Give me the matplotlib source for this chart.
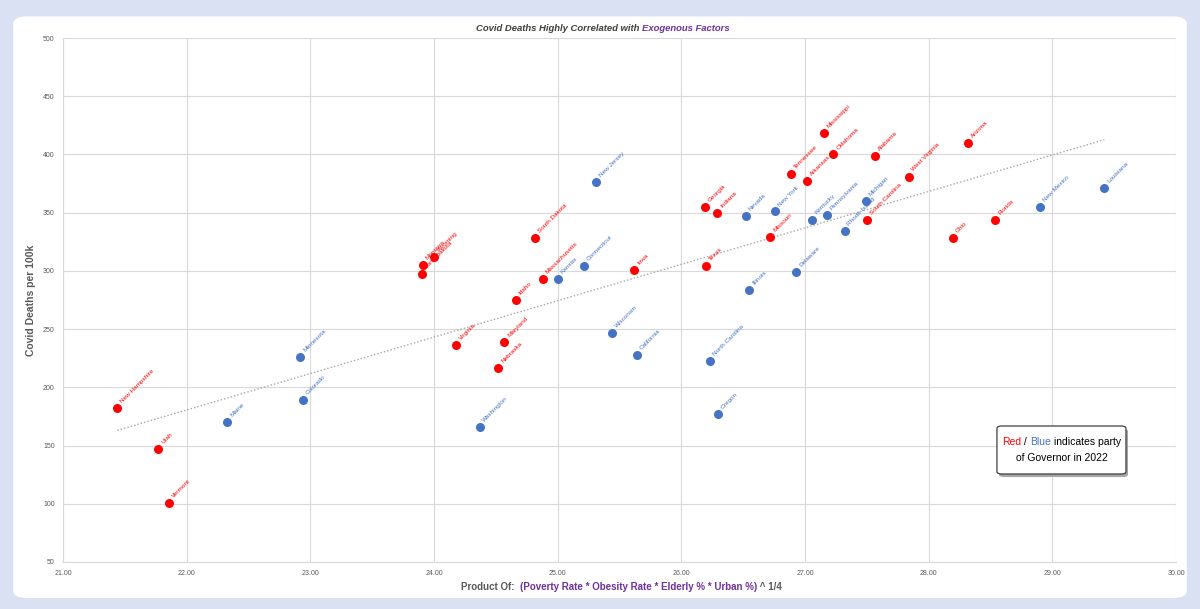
import matplotlib.pyplot as plt
import numpy as np
from matplotlib.patches import FancyBboxPatch
from matplotlib.offsetbox import TextArea, HPacker, VPacker, AnchoredOffsetbox

plt.rcParams['font.family'] = ['DejaVu Sans Condensed', 'Liberation Sans Narrow',
                               'Liberation Sans', 'DejaVu Sans']

# Republican governors (red)
red_states = ['New Hampshire', 'Utah', 'Vermont', 'Virginia', 'Maryland', 'Nebraska',
              'Idaho', 'Massachusetts', 'South Dakota', 'Montana', 'North Dakota', 'Wyoming',
              'Iowa', 'Georgia', 'Indiana', 'Texas', 'Missouri', 'Tennessee', 'Mississippi',
              'Arkansas', 'Oklahoma', 'Alabama', 'West Virginia', 'South Carolina',
              'Arizona', 'Ohio', 'Florida']
red_x = [21.44, 21.77, 21.86, 24.18, 24.57, 24.52,
         24.66, 24.88, 24.82, 23.91, 23.90, 24.00,
         25.62, 26.19, 26.29, 26.20, 26.72, 26.89, 27.15,
         27.02, 27.23, 27.57, 27.84, 27.50,
         28.32, 28.20, 28.54]
red_y = [182, 147, 101, 236, 239, 217,
         275, 293, 328, 305, 297, 312,
         301, 355, 350, 304, 329, 383, 418,
         377, 400, 399, 381, 344,
         410, 328, 344]

# Democratic governors (blue)
blue_states = ['Maine', 'Minnesota', 'Colorado', 'Washington', 'Kansas', 'Connecticut',
               'New Jersey', 'Wisconsin', 'California', 'North Carolina', 'Oregon',
               'Illinois', 'Nevada', 'New York', 'Delaware', 'Kentucky', 'Pennsylvania',
               'Rhode Island', 'Michigan', 'New Mexico', 'Louisiana']
blue_x = [22.33, 22.92, 22.94, 24.37, 25.00, 25.21,
          25.31, 25.44, 25.64, 26.23, 26.30,
          26.55, 26.52, 26.76, 26.93, 27.06, 27.18,
          27.32, 27.49, 28.90, 29.42]
blue_y = [170, 226, 189, 166, 293, 304,
          376, 247, 228, 223, 177,
          284, 347, 351, 299, 344, 348,
          334, 360, 355, 371]

RED = '#FF0000'
BLUE = '#4472C4'
PURPLE = '#7030A0'
GREY = '#595959'

fig = plt.figure(figsize=(12, 6.09), dpi=100)
fig.patch.set_facecolor('#DAE1F2')
bg = FancyBboxPatch((0.011, 0.018), 0.978, 0.955, boxstyle='round,pad=0,rounding_size=0.012',
                    transform=fig.transFigure, facecolor='white', edgecolor='none', zorder=-10)
fig.patches.append(bg)

ax = fig.add_axes([0.0525, 0.0772, 0.9275, 0.8604])
ax.set_zorder(1)
ax.set_facecolor('white')

# trendline through all points
all_x = np.array(red_x + blue_x)
all_y = np.array(red_y + blue_y)
m, b = np.polyfit(all_x, all_y, 1)
tx = np.array([all_x.min(), all_x.max()])
ax.plot(tx, m * tx + b, linestyle=(0, (1, 1.5)), color='#A6A6A6', linewidth=1, zorder=2)

ax.scatter(red_x, red_y, s=42, color=RED, zorder=3, linewidths=0)
ax.scatter(blue_x, blue_y, s=42, color=BLUE, zorder=3, linewidths=0)

for name, x, y in zip(red_states, red_x, red_y):
    ax.annotate(name, (x, y), xytext=(4, 3), textcoords='offset points',
                rotation=45, rotation_mode='anchor', ha='left', va='bottom',
                fontsize=4.6, color=RED, zorder=4)
for name, x, y in zip(blue_states, blue_x, blue_y):
    ax.annotate(name, (x, y), xytext=(4, 3), textcoords='offset points',
                rotation=45, rotation_mode='anchor', ha='left', va='bottom',
                fontsize=4.6, color=BLUE, zorder=4)

ax.set_xlim(21, 30)
ax.set_ylim(50, 500)
ax.set_xticks(np.arange(21, 30.5, 1))
ax.set_xticklabels(['%.2f' % v for v in np.arange(21, 30.5, 1)])
ax.set_yticks(np.arange(50, 501, 50))
ax.tick_params(axis='both', labelsize=5, colors=GREY, length=0, pad=6)
ax.grid(True, color='#D9D9D9', linewidth=0.8, zorder=0)
ax.set_axisbelow(True)
for side in ['top', 'right']:
    ax.spines[side].set_visible(False)
for side in ['left', 'bottom']:
    ax.spines[side].set_color('#D9D9D9')

ax.set_ylabel('Covid Deaths per 100k', fontsize=7.5, fontweight='bold', color=GREY, labelpad=5)

# title in two colours
t1 = fig.text(0.3965, 0.954, 'Covid Deaths Highly Correlated with ', fontsize=6.8,
              style='italic', fontweight='bold', color='#404040', ha='left', va='center')
ax.annotate('Exogenous Factors', xy=(1, 0), xycoords=t1, ha='left', va='bottom',
            fontsize=6.8, style='italic', fontweight='bold', color=PURPLE,
            annotation_clip=False)

# x label with coloured middle
x1 = fig.text(0.384, 0.036, 'Product Of:  ', fontsize=7, fontweight='bold', color=GREY,
              ha='left', va='center')
x2 = ax.annotate('(Poverty Rate * Obesity Rate * Elderly % * Urban %)', xy=(1, 0),
                 xycoords=x1, ha='left', va='bottom', fontsize=7, fontweight='bold',
                 color=PURPLE, annotation_clip=False)
ax.annotate(' ^ 1/4', xy=(1, 0), xycoords=x2, ha='left', va='bottom', fontsize=7,
            fontweight='bold', color=GREY, annotation_clip=False)

# note box with shadow
shadow = FancyBboxPatch((0.8325, 0.2167), 0.1075, 0.0788,
                        boxstyle='round,pad=0,rounding_size=0.004',
                        transform=fig.transFigure, facecolor='#A6A6A6', edgecolor='none',
                        zorder=5)
box = FancyBboxPatch((0.8308, 0.2217), 0.1075, 0.0788,
                     boxstyle='round,pad=0,rounding_size=0.004',
                     transform=fig.transFigure, facecolor='white', edgecolor='#404040',
                     linewidth=0.9, zorder=6)
fig.patches.append(shadow)
fig.patches.append(box)

note_font = ['Liberation Sans', 'DejaVu Sans']
line1 = HPacker(children=[
    TextArea('Red', textprops=dict(fontsize=7.5, color=RED, family=note_font)),
    TextArea(' / ', textprops=dict(fontsize=7.5, color='black', family=note_font)),
    TextArea('Blue', textprops=dict(fontsize=7.5, color=BLUE, family=note_font)),
    TextArea(' indicates party', textprops=dict(fontsize=7.5, color='black', family=note_font)),
], pad=0, sep=0)
line2 = TextArea('of Governor in 2022', textprops=dict(fontsize=7.5, color='black', family=note_font))
note = VPacker(children=[line1, line2], align='center', pad=0, sep=4)
nb = AnchoredOffsetbox(loc='center', child=note, frameon=False, pad=0,
                       bbox_to_anchor=(0.8846, 0.2611), bbox_transform=fig.transFigure)
nb.zorder = 7
fig.add_artist(nb)

fig.savefig('out.png', dpi=100, facecolor=fig.get_facecolor())
